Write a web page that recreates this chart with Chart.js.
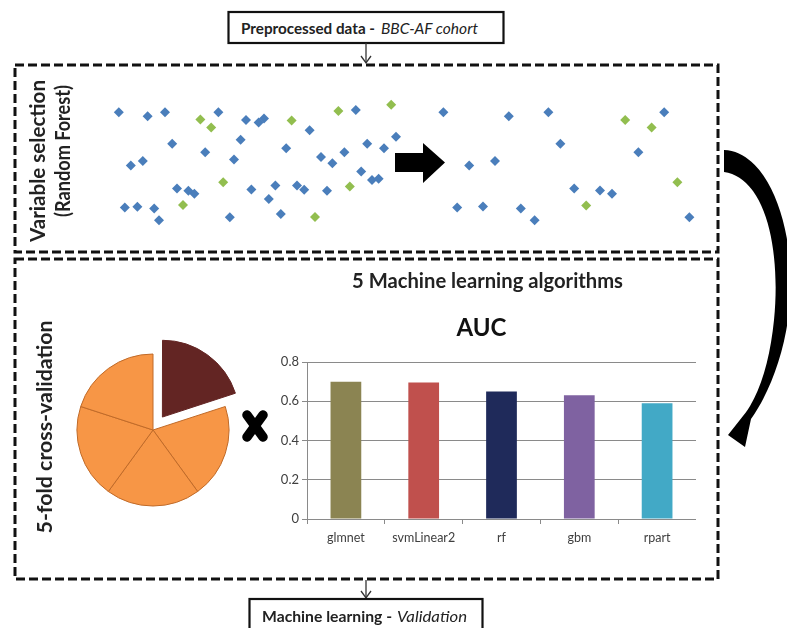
<!DOCTYPE html>
<html>
<head>
<meta charset="utf-8">
<script src="https://cdn.jsdelivr.net/npm/chart.js@4.4.0/dist/chart.umd.min.js"></script>
<style>
  html, body { margin: 0; padding: 0; background: #fff; }
  #page { position: relative; width: 787px; height: 628px; overflow: hidden; background: #fff; }
  canvas, svg { position: absolute; }
  #overlay { left: 0; top: 0; pointer-events: none; }
</style>
</head>
<body>
<div id="page">
  <canvas id="varChart" width="610" height="144" style="left:100px;top:92px;"></canvas>
  <canvas id="foldChart" width="200" height="200" style="left:53px;top:330px;"></canvas>
  <canvas id="aucChart" width="429" height="259" style="left:267px;top:300px;"></canvas>

  <svg id="overlay" width="787" height="628">
    <!-- top box -->
    <rect x="228.5" y="12" width="275" height="31" fill="#fff" stroke="#111" stroke-width="2.2"/>
    <text x="241" y="33.5" font-family="Lato" font-weight="bold" font-size="15.5" fill="#222" textLength="134" lengthAdjust="spacingAndGlyphs">Preprocessed data -</text>
    <text x="381" y="33.5" font-family="Lato" font-style="italic" font-size="15.5" fill="#222" textLength="97" lengthAdjust="spacingAndGlyphs">BBC-AF cohort</text>
    <line x1="366" y1="43" x2="366" y2="63" stroke="#333" stroke-width="1.3"/>
    <polyline points="361,56 366,63 371,56" fill="none" stroke="#333" stroke-width="1.3"/>

    <!-- dashed boxes -->
    <rect x="15" y="65" width="703" height="187" fill="none" stroke="#111" stroke-width="3" stroke-dasharray="9 4"/>
    <rect x="15" y="259" width="703" height="320" fill="none" stroke="#111" stroke-width="3" stroke-dasharray="9 4"/>

    <!-- side labels -->
    <text transform="translate(45,161) rotate(-90)" text-anchor="middle" font-family="Lato" font-weight="bold" font-size="20" fill="#222" textLength="162" lengthAdjust="spacingAndGlyphs">Variable selection</text>
    <text transform="translate(70,151) rotate(-90)" text-anchor="middle" font-family="Lato" font-weight="bold" font-size="20" fill="#222" textLength="132" lengthAdjust="spacingAndGlyphs">(Random Forest)</text>
    <text transform="translate(52,427) rotate(-90)" text-anchor="middle" font-family="Lato" font-weight="bold" font-size="21" fill="#222" textLength="213" lengthAdjust="spacingAndGlyphs">5-fold cross-validation</text>

    <!-- straight arrow -->
    <polygon points="395,153 423,153 423,143 445,162.5 423,183 423,172 395,172" fill="#000"/>

    <!-- curved arrow -->
    <path d="M724 150 C775 152 800 250 788 320 C782 360 768 395 751 419 L745 447 L728 435 L743 416 C760 395 770 360 774 320 C781 250 766 178 724 172 Z" fill="#000"/>

    <!-- section title -->
    <text x="352" y="288" font-family="Lato" font-weight="bold" font-size="20" fill="#222" textLength="271" lengthAdjust="spacingAndGlyphs">5 Machine learning algorithms</text>

    <!-- cross -->
    <line x1="247" y1="415" x2="263" y2="437" stroke="#000" stroke-width="9.5" stroke-linecap="round"/>
    <line x1="263" y1="415" x2="247" y2="437" stroke="#000" stroke-width="9.5" stroke-linecap="round"/>

    <!-- bottom box -->
    <line x1="366" y1="580" x2="366" y2="598" stroke="#333" stroke-width="1.3"/>
    <polyline points="361,591 366,598 371,591" fill="none" stroke="#333" stroke-width="1.3"/>
    <rect x="249.5" y="599" width="233" height="40" fill="#fff" stroke="#111" stroke-width="2.2"/>
    <text x="262" y="622" font-family="Lato" font-weight="bold" font-size="16" fill="#222" textLength="130" lengthAdjust="spacingAndGlyphs">Machine learning -</text>
    <text x="397" y="622" font-family="Lato" font-style="italic" font-size="16" fill="#222" textLength="70" lengthAdjust="spacingAndGlyphs">Validation</text>
  </svg>
</div>

<script>
// candidate variables (blue) and selected variables (green), arbitrary 0-100 layout units
const varX = [2.3, 7.1, 10.0, 18.9, 23.5, 25.6, 26.5, 34.1, 41.8, 48.5, 11.2, 22.6, 16.7, 30.2, 43.7, 46.5,
  4.3, 6.3, 21.5, 36.0, 37.9, 39.9, 42.7, 44.5, 45.6, 12.0, 13.9, 14.9, 24.4, 28.4, 32.0, 33.2, 37.0, 27.3,
  3.3, 5.4, 8.2, 9.0, 20.8, 29.3,
  56.4, 67.3, 73.9, 93.2, 75.9, 88.9, 60.7, 65.0, 78.2, 82.5, 84.5, 58.7, 63.0, 69.3, 71.6, 97.4];
const varY = [88.7, 85.6, 88.7, 88.7, 82.8, 81.0, 84.0, 75.2, 90.3, 70.3, 65.1, 68.1, 58.8, 61.8, 65.1, 61.8,
  48.8, 52.3, 53.3, 55.3, 50.5, 58.8, 44.4, 38.0, 38.9, 31.7, 30.1, 27.8, 31.0, 34.0, 34.0, 30.8, 30.1, 23.8,
  17.6, 18.1, 16.7, 8.1, 10.2, 12.7,
  88.7, 85.6, 88.7, 88.7, 65.1, 58.8, 48.8, 52.3, 31.7, 30.3, 27.8, 17.6, 18.3, 16.7, 8.1, 10.2];
const selX = [15.9, 17.7, 31.1, 38.9, 47.7, 19.7, 13.0, 40.8, 35.0, 86.7, 91.1, 95.4, 80.2];
const selY = [83.3, 77.3, 82.4, 89.6, 94.2, 36.3, 19.4, 33.3, 10.4, 82.8, 77.3, 36.3, 19.0];

const folds = ["Fold 1", "Fold 2", "Fold 3", "Fold 4", "Fold 5"];
const foldShare = [1, 1, 1, 1, 1];

const algorithms = ["glmnet", "svmLinear2", "rf", "gbm", "rpart"];
const auc = [0.70, 0.695, 0.65, 0.63, 0.59];
const aucColors = ["#8B8452", "#C0504D", "#1F2A5A", "#7F62A1", "#42A9C6"];

Chart.defaults.font.family = "Lato";
Chart.defaults.animation = false;

const toPoints = (xs, ys) => xs.map((x, i) => ({ x: x, y: ys[i] }));

new Chart(document.getElementById("varChart").getContext("2d"), {
  type: "scatter",
  data: {
    datasets: [
      {
        data: toPoints(varX, varY),
        pointStyle: "rectRot",
        radius: 5,
        backgroundColor: "#4A7EBB",
        borderColor: "#4A7EBB",
        borderWidth: 0,
      },
      {
        data: toPoints(selX, selY),
        pointStyle: "rectRot",
        radius: 5,
        backgroundColor: "#92BE4F",
        borderColor: "#92BE4F",
        borderWidth: 0,
      },
    ],
  },
  options: {
    responsive: false,
    layout: { padding: 0 },
    plugins: { legend: { display: false }, tooltip: { enabled: false } },
    scales: {
      x: { display: false, min: 0, max: 100 },
      y: { display: false, min: 0, max: 100 },
    },
  },
});

// held-out fold is pulled out of the pie (arc offset is scaled down by 4 in v4)
new Chart(document.getElementById("foldChart").getContext("2d"), {
  type: "pie",
  data: {
    labels: folds,
    datasets: [
      {
        data: foldShare,
        backgroundColor: ["#632523", "#F79646", "#F79646", "#F79646", "#F79646"],
        borderColor: ["#632523", "#C06A28", "#C06A28", "#C06A28", "#C06A28"],
        borderWidth: 1,
        offset: [64, 0, 0, 0, 0],
      },
    ],
  },
  options: {
    responsive: false,
    radius: 76,
    layout: { padding: 0 },
    plugins: { legend: { display: false }, tooltip: { enabled: false } },
  },
});

new Chart(document.getElementById("aucChart").getContext("2d"), {
  type: "bar",
  data: {
    labels: algorithms,
    datasets: [
      {
        data: auc,
        backgroundColor: aucColors,
        barPercentage: 0.395,
        categoryPercentage: 1,
      },
    ],
  },
  options: {
    responsive: false,
    layout: { padding: 0 },
    plugins: {
      legend: { display: false },
      tooltip: { enabled: false },
      title: {
        display: true,
        text: "AUC",
        color: "#111",
        font: { size: 24, weight: "bold" },
        padding: { top: 13.6, bottom: 19.6 },
      },
    },
    scales: {
      x: {
        grid: { display: true, drawOnChartArea: false, drawTicks: true, tickLength: 5, color: "#8a8a8a", offset: true },
        border: { color: "#8a8a8a" },
        ticks: { color: "#404040", font: { size: 12.5 }, padding: 6 },
        afterFit: function (scale) { scale.height = 40; },
      },
      y: {
        min: 0,
        max: 0.8,
        grid: { color: "#8a8a8a", tickLength: 5 },
        border: { color: "#8a8a8a" },
        ticks: { stepSize: 0.2, color: "#404040", font: { size: 13 }, padding: 3,
          callback: function (value) { return Math.round(value * 10) / 10; } },
        afterFit: function (scale) { scale.width = 40; },
      },
    },
  },
});
</script>
</body>
</html>
